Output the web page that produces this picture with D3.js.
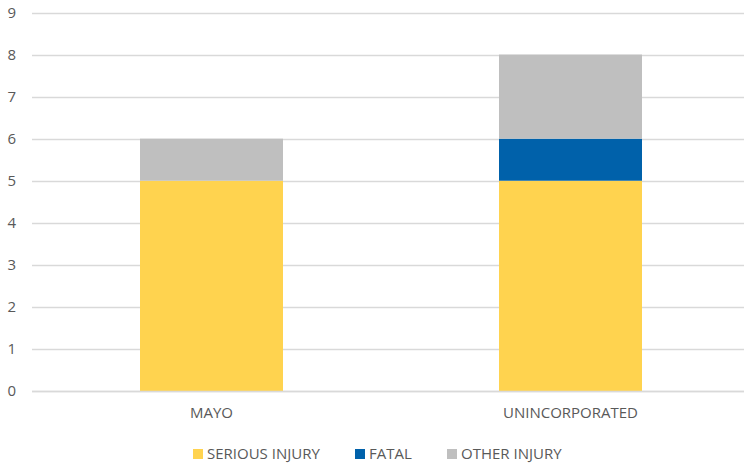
<!DOCTYPE html>
<html>
<head>
<meta charset="utf-8">
<script src="https://cdn.jsdelivr.net/npm/d3@7"></script>
<style>
  body { margin: 0; background: #fff; }
  text { font-family: "Open Sans", sans-serif; fill: #595959; }
</style>
</head>
<body>
<div id="chart"></div>
<script>
// chart data
const categories = ["MAYO", "UNINCORPORATED"];
const seriesNames = ["SERIOUS INJURY", "FATAL", "OTHER INJURY"];
const seriousInjury = [5, 5];
const fatal = [0, 1];
const otherInjury = [1, 2];
const yTicks = [0, 1, 2, 3, 4, 5, 6, 7, 8, 9];
const colors = ["#FFD34F", "#0061AA", "#BFBFBF"];

const width = 744, height = 466;

let rows = categories.map((c, i) => ({
  cat: c,
  "SERIOUS INJURY": seriousInjury[i],
  "FATAL": fatal[i],
  "OTHER INJURY": otherInjury[i]
}));

let svg = d3.select("#chart").append("svg")
  .attr("width", width)
  .attr("height", height);

let x = d3.scaleBand()
  .domain(categories)
  .range([32, 750]);

let y = d3.scaleLinear()
  .domain([0, 9])
  .range([391, 12.5]);

// gridlines
svg.append("g")
  .selectAll("line")
  .data(yTicks)
  .enter().append("line")
  .attr("x1", 32)
  .attr("x2", width)
  .attr("y1", d => Math.round(y(d)) + 0.5)
  .attr("y2", d => Math.round(y(d)) + 0.5)
  .attr("stroke", "#D9D9D9")
  .attr("stroke-width", 1.5);

// y axis labels
svg.append("g")
  .selectAll("text")
  .data(yTicks)
  .enter().append("text")
  .attr("x", 16)
  .attr("y", d => y(d))
  .attr("dy", "0.35em")
  .attr("text-anchor", "end")
  .attr("font-size", 15)
  .text(d => d);

// stacked bars
let stack = d3.stack().keys(seriesNames)(rows);
let barW = 143;

svg.append("g")
  .selectAll("g")
  .data(stack)
  .enter().append("g")
  .attr("fill", (d, i) => colors[i])
  .selectAll("rect")
  .data(d => d)
  .enter().append("rect")
  .attr("x", d => x(d.data.cat) + x.bandwidth() / 2 - barW / 2)
  .attr("width", barW)
  .attr("y", d => y(d[1]))
  .attr("height", d => y(d[0]) - y(d[1]));

// baseline
svg.append("line")
  .attr("x1", 32).attr("x2", width)
  .attr("y1", Math.round(y(0)) + 0.5).attr("y2", Math.round(y(0)) + 0.5)
  .attr("stroke", "#D9D9D9")
  .attr("stroke-width", 1.5);

// category labels
svg.append("g")
  .selectAll("text")
  .data(categories)
  .enter().append("text")
  .attr("x", d => x(d) + x.bandwidth() / 2)
  .attr("y", 413)
  .attr("dy", "0.35em")
  .attr("text-anchor", "middle")
  .attr("font-size", 15)
  .text(d => d);

// legend
let legendX = [193, 355, 447];
let legend = svg.append("g")
  .selectAll("g")
  .data(seriesNames)
  .enter().append("g")
  .attr("transform", (d, i) => "translate(" + legendX[i] + ",449)");

legend.append("rect")
  .attr("width", 10)
  .attr("height", 10)
  .attr("fill", (d, i) => colors[i]);

legend.append("text")
  .attr("x", 14)
  .attr("y", 5)
  .attr("dy", "0.35em")
  .attr("font-size", 15)
  .text(d => d);
</script>
</body>
</html>
